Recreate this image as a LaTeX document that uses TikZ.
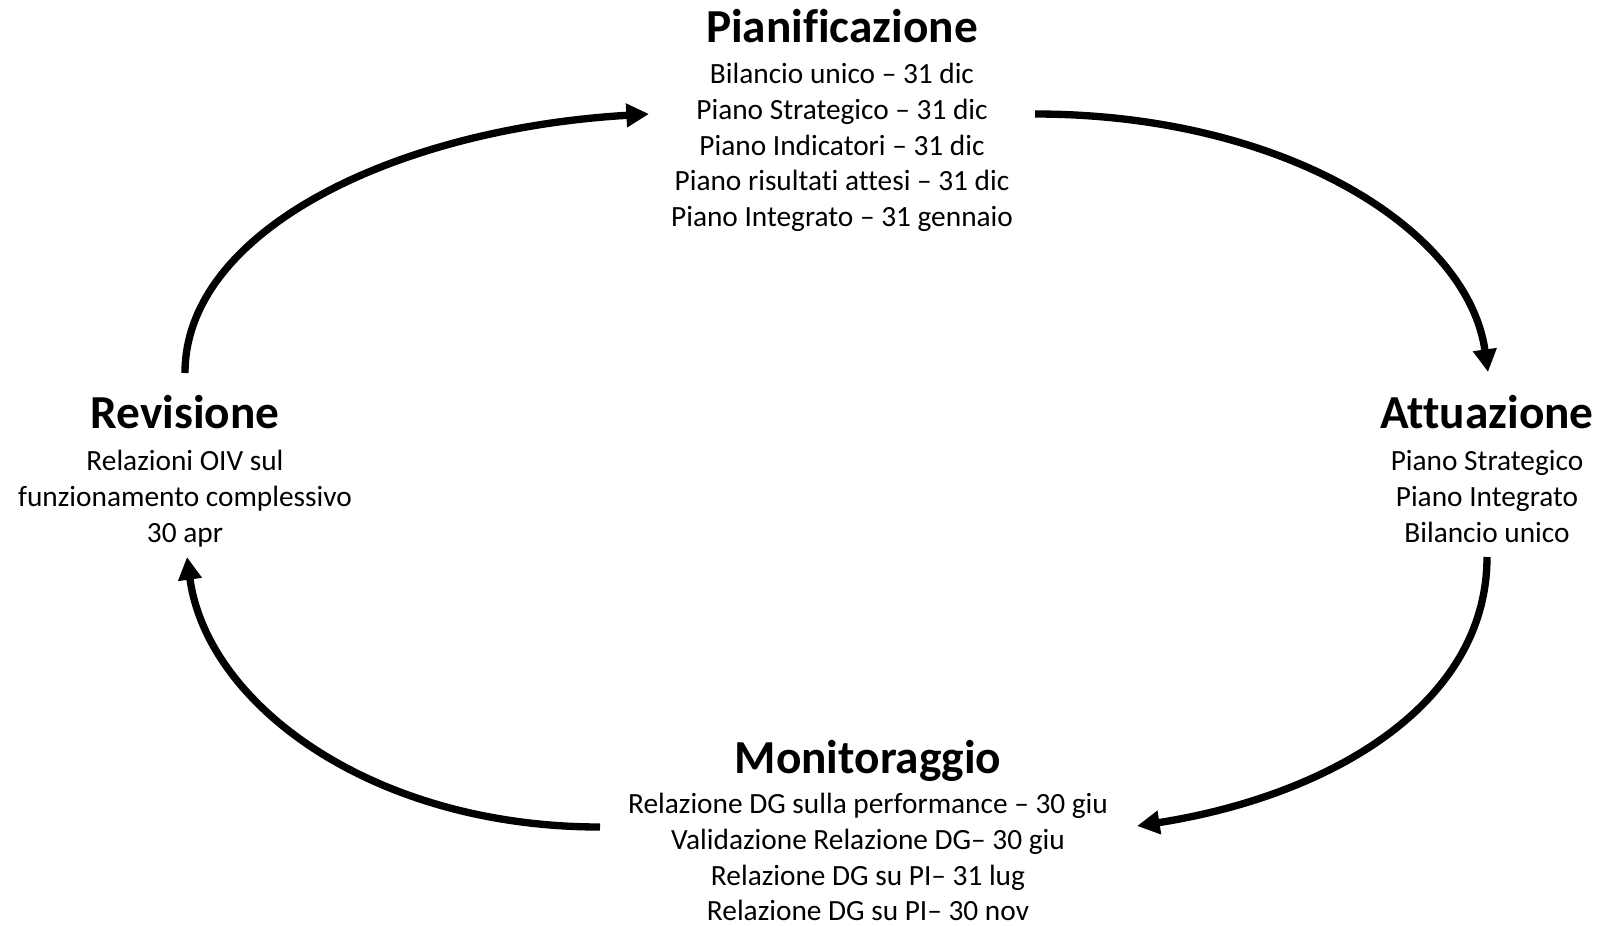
\documentclass[tikz,border=0pt]{standalone}
\usepackage{fontspec}
\setmainfont{Carlito}[Ligatures={TeX,NoCommon}]
\usetikzlibrary{arrows.meta}
\begin{document}
\begin{tikzpicture}[x=0.75pt,y=-0.75pt,
  phase/.style={font=\fontsize{35.5}{40}\selectfont\bfseries, inner sep=0pt, anchor=base},
  items/.style={font=\fontsize{22}{26.85}\selectfont, align=center, inner sep=0pt, anchor=base},
  cyclearrow/.style={line width=5.5pt, -{Triangle[length=17pt,width=17pt]}}]
\useasboundingbox (0,0) rectangle (1603,925);

% phases of the cycle (item lists are placed by the baseline of their last line)
\node[phase] (pian) at (842,42) {Pianificazione};
\node[items] (pianitems) at (842,226.7) {Bilancio unico -- 31 dic\\Piano Strategico -- 31 dic\\Piano Indicatori -- 31 dic\\Piano risultati attesi -- 31 dic\\Piano Integrato -- 31 gennaio};

\node[phase] (att) at (1487,428) {Attuazione};
\node[items] (attitems) at (1487,542.2) {Piano Strategico\\Piano Integrato\\Bilancio unico};

\node[phase] (mon) at (868,773) {Monitoraggio};
\node[items] (monitems) at (868,920.9) {Relazione DG sulla performance -- 30 giu\\Validazione Relazione DG-- 30 giu\\Relazione DG su PI-- 31 lug\\Relazione DG su PI-- 30 nov};

\node[phase] (rev) at (185,428) {Revisione};
\node[items] (revitems) at (185,542.2) {Relazioni OIV sul\\funzionamento complessivo\\30 apr};

% arrow end points around the phases
\coordinate (pianR) at (1035,114);
\coordinate (attT)  at (1488,372);
\coordinate (attB)  at (1487,557);
\coordinate (monR)  at (1137,826);
\coordinate (monL)  at (600,827);
\coordinate (revB)  at (187,557);
\coordinate (revT)  at (185,373);
\coordinate (pianL) at (649,114);

% the four arcs of the cycle
\draw[cyclearrow] (pianR) .. controls +(250,0) and +(-20,-142) .. (attT);
\draw[cyclearrow] (attB) .. controls +(0,148) and +(192,-30) .. (monR);
\draw[cyclearrow] (monL) .. controls +(-227,0) and +(20,148) .. (revB);
\draw[cyclearrow] (revT) .. controls +(0,-142) and +(-255,15) .. (pianL);
\end{tikzpicture}
\end{document}
